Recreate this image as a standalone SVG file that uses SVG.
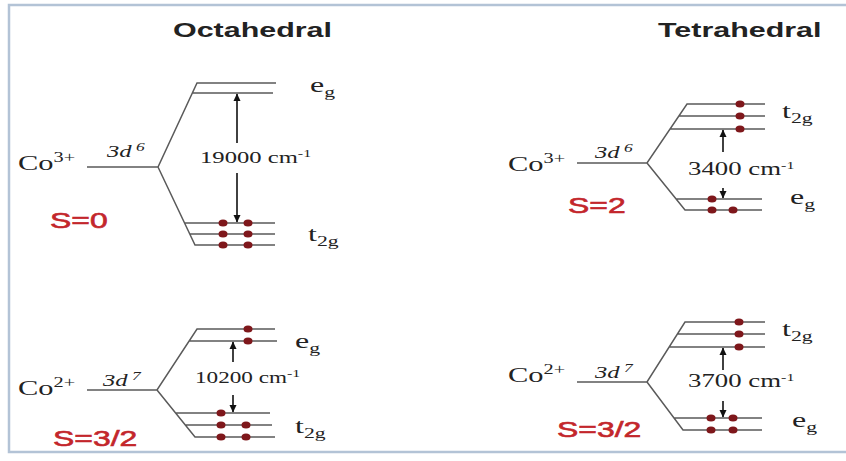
<svg xmlns="http://www.w3.org/2000/svg" width="846" height="461" viewBox="0 0 846 461">
<style>
.lv{stroke:#5a5a5a;stroke-width:1.5;fill:none}
.ar{stroke:#111;stroke-width:1.6;fill:none}
.dot{fill:#7e171b}
.title{font-family:"Liberation Sans",Arial,sans-serif;font-weight:bold;font-size:21px;fill:#222}
.ion{font-family:"Liberation Serif","Times New Roman",serif;font-size:21px;fill:#222}
.orb{font-family:"Liberation Serif","Times New Roman",serif;font-style:italic;font-size:17px;fill:#222}
.en{font-family:"Liberation Serif","Times New Roman",serif;fill:#222}
.lab{font-family:"Liberation Serif","Times New Roman",serif;font-size:22px;fill:#222}
.spin{font-family:"Liberation Sans",Arial,sans-serif;font-size:22px;fill:#c3262b;stroke:#c3262b;stroke-width:0.6}
</style>
<defs>
<marker id="ah" markerWidth="8" markerHeight="8" refX="7" refY="4" orient="auto" markerUnits="userSpaceOnUse">
<path d="M0,0.5 L7.5,4 L0,7.5 Z" fill="#111"/>
</marker>
</defs>
<rect width="846" height="461" fill="#ffffff"/>
<g id="frame" stroke="#b3c3d6" stroke-width="2.5" fill="none">
<path d="M846,5 L9,5 L9,452 L846,452"/>
</g>
<g id="titles">
<text class="title" transform="translate(173,37) scale(1.45,1)">Octahedral</text>
<text class="title" transform="translate(658,37) scale(1.45,1)">Tetrahedral</text>
</g>

<g id="oct-co3">
<text class="ion" transform="translate(18,170) scale(1.45,1)">Co<tspan font-size="14" dy="-8">3+</tspan></text>
<text class="orb" transform="translate(107,157) scale(1.45,1)">3d<tspan font-size="12" dy="-6"> 6</tspan></text>
<path class="lv" d="M87,167 L158,167 L197,83 L276,83 M192.4,93 L273,93 M158,167 L195,245 L275,245 M184.6,223 L275,223 M189.8,234 L275,234"/>
<ellipse class="dot" cx="223" cy="223" rx="4.5" ry="3.6"/><ellipse class="dot" cx="248" cy="223" rx="4.5" ry="3.6"/>
<ellipse class="dot" cx="223" cy="234" rx="4.5" ry="3.6"/><ellipse class="dot" cx="248" cy="234" rx="4.5" ry="3.6"/>
<ellipse class="dot" cx="223" cy="245" rx="4.5" ry="3.6"/><ellipse class="dot" cx="248" cy="245" rx="4.5" ry="3.6"/>
<text class="en" font-size="17" transform="translate(200,163) scale(1.45,1)">19000 cm<tspan font-size="11" dy="-6">-1</tspan></text>
<text class="lab" transform="translate(310,92) scale(1.45,1)">e<tspan font-size="15" dy="5">g</tspan></text>
<text class="lab" transform="translate(308,241) scale(1.45,1)">t<tspan font-size="15" dy="5">2g</tspan></text>
<text class="spin" transform="translate(50,228) scale(1.45,1)">S=0</text>
</g>

<g id="tet-co3">
<text class="ion" transform="translate(508,171) scale(1.45,1)">Co<tspan font-size="14" dy="-8">3+</tspan></text>
<text class="orb" transform="translate(595,158) scale(1.45,1)">3d<tspan font-size="12" dy="-6"> 6</tspan></text>
<path class="lv" d="M577,163 L647,163 L687,104 L765,104 M678.9,116 L765,116 M670.1,129 L765,129 M647,163 L685,210 L762,210 M676.1,199 L762,199"/>
<ellipse class="dot" cx="740" cy="104" rx="4.5" ry="3.6"/>
<ellipse class="dot" cx="740" cy="116" rx="4.5" ry="3.6"/>
<ellipse class="dot" cx="740" cy="129" rx="4.5" ry="3.6"/>
<ellipse class="dot" cx="712" cy="199" rx="4.5" ry="3.6"/>
<ellipse class="dot" cx="712" cy="210" rx="4.5" ry="3.6"/><ellipse class="dot" cx="733" cy="210" rx="4.5" ry="3.6"/>
<text class="en" font-size="18.5" transform="translate(688,175) scale(1.45,1)">3400 cm<tspan font-size="11" dy="-6">-1</tspan></text>
<text class="lab" transform="translate(782,118) scale(1.45,1)">t<tspan font-size="15" dy="5">2g</tspan></text>
<text class="lab" transform="translate(790,204) scale(1.45,1)">e<tspan font-size="15" dy="5">g</tspan></text>
<text class="spin" transform="translate(568,213) scale(1.45,1)">S=2</text>
</g>

<g id="oct-co2">
<text class="ion" transform="translate(18,395) scale(1.45,1)">Co<tspan font-size="14" dy="-8">2+</tspan></text>
<text class="orb" transform="translate(103,386) scale(1.45,1)">3d<tspan font-size="12" dy="-6"> 7</tspan></text>
<path class="lv" d="M87,390 L157,390 L197,329 L275,329 M189.1,341 L277,341 M157,390 L195,437 L275,437 M175.6,413 L270,413 M185.3,425 L272,425"/>
<ellipse class="dot" cx="248" cy="329" rx="4.5" ry="3.6"/>
<ellipse class="dot" cx="248" cy="341" rx="4.5" ry="3.6"/>
<ellipse class="dot" cx="221" cy="413" rx="4.5" ry="3.6"/>
<ellipse class="dot" cx="221" cy="425" rx="4.5" ry="3.6"/><ellipse class="dot" cx="246" cy="425" rx="4.5" ry="3.6"/>
<ellipse class="dot" cx="221" cy="437" rx="4.5" ry="3.6"/><ellipse class="dot" cx="246" cy="437" rx="4.5" ry="3.6"/>
<text class="en" font-size="16" transform="translate(195,383) scale(1.45,1)">10200 cm<tspan font-size="11" dy="-6">-1</tspan></text>
<text class="lab" transform="translate(295,348) scale(1.45,1)">e<tspan font-size="15" dy="5">g</tspan></text>
<text class="lab" transform="translate(295,433) scale(1.45,1)">t<tspan font-size="15" dy="5">2g</tspan></text>
<text class="spin" transform="translate(53,446) scale(1.45,1)">S=3/2</text>
</g>

<g id="tet-co2">
<text class="ion" transform="translate(508,382) scale(1.45,1)">Co<tspan font-size="14" dy="-8">2+</tspan></text>
<text class="orb" transform="translate(595,378) scale(1.45,1)">3d<tspan font-size="12" dy="-6"> 7</tspan></text>
<path class="lv" d="M577,382 L647,382 L685,322 L765,322 M677.4,334 L765,334 M669.2,347 L765,347 M647,382 L683,430 L762,430 M674,418 L762,418"/>
<ellipse class="dot" cx="739" cy="322" rx="4.5" ry="3.6"/>
<ellipse class="dot" cx="739" cy="334" rx="4.5" ry="3.6"/>
<ellipse class="dot" cx="739" cy="347" rx="4.5" ry="3.6"/>
<ellipse class="dot" cx="711" cy="418" rx="4.5" ry="3.6"/><ellipse class="dot" cx="733" cy="418" rx="4.5" ry="3.6"/>
<ellipse class="dot" cx="711" cy="430" rx="4.5" ry="3.6"/><ellipse class="dot" cx="733" cy="430" rx="4.5" ry="3.6"/>
<text class="en" font-size="18.5" transform="translate(688,387) scale(1.45,1)">3700 cm<tspan font-size="11" dy="-6">-1</tspan></text>
<text class="lab" transform="translate(782,336) scale(1.45,1)">t<tspan font-size="15" dy="5">2g</tspan></text>
<text class="lab" transform="translate(792,427) scale(1.45,1)">e<tspan font-size="15" dy="5">g</tspan></text>
<text class="spin" transform="translate(557,437) scale(1.45,1)">S=3/2</text>
</g>

<g id="connectors">
<line class="ar" x1="237" y1="143" x2="237" y2="94" marker-end="url(#ah)"/>
<line class="ar" x1="237" y1="173" x2="237" y2="222" marker-end="url(#ah)"/>
<line class="ar" x1="723" y1="152" x2="723" y2="130" marker-end="url(#ah)"/>
<line class="ar" x1="723" y1="188" x2="723" y2="198" marker-end="url(#ah)"/>
<line class="ar" x1="233" y1="362" x2="233" y2="342" marker-end="url(#ah)"/>
<line class="ar" x1="233" y1="395" x2="233" y2="412" marker-end="url(#ah)"/>
<line class="ar" x1="723" y1="370" x2="723" y2="348" marker-end="url(#ah)"/>
<line class="ar" x1="723" y1="401" x2="723" y2="417" marker-end="url(#ah)"/>
</g>
</svg>
